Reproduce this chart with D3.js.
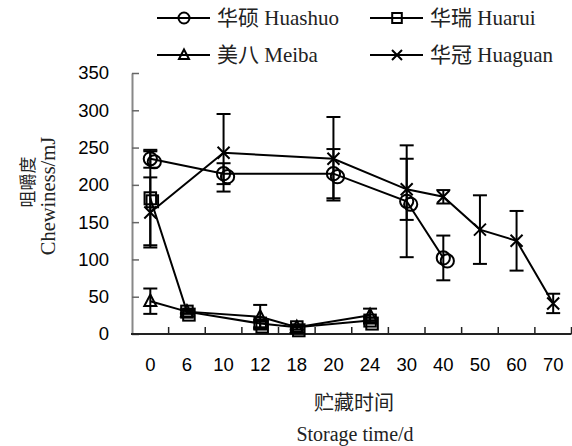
<!DOCTYPE html>
<html><head><meta charset="utf-8">
<script src="https://cdn.jsdelivr.net/npm/d3@7"></script>
<style>
body{margin:0;background:#fff;}
svg{display:block;}
.serif{font-family:"Liberation Serif","Times New Roman","Noto Sans CJK SC",serif;}
.sans{font-family:"Liberation Sans",Arial,sans-serif;}
</style></head>
<body>
<script>
// ---- data ----
const categories = ["0","6","10","12","18","20","24","30","40","50","60","70"];
const yTicks = [0,50,100,150,200,250,300,350];

const huashuoDays = ["0","10","20","30","40"];
const huashuoMean = [235, 215, 215, 178, 102];
const huashuoErr  = [12, 14, 33, 75, 30];

const huaruiDays = ["0","6","12","18","24"];
const huaruiMean = [182, 30, 14, 9, 18];
const huaruiErr  = [63, 3, 5, 3, 4];

const meibaDays = ["0","6","12","18","24"];
const meibaMean = [44, 30, 23, 9, 25];
const meibaErr  = [17, 2, 16, 3, 9];

const huaguanDays = ["0","10","20","30","40","50","60","70"];
const huaguanMean = [163, 243, 235, 194, 184, 140, 125, 41];
const huaguanErr  = [47, 52, 56, 41, 9, 46, 40, 13];

const seriesNames = ["华硕 Huashuo","华瑞 Huarui","美八 Meiba","华冠 Huaguan"];
const seriesShapes = ["circle","square","triangle","cross"];

// ---- build ----
const W = 572, H = 446;
const svg = d3.select("body").append("svg").attr("width",W).attr("height",H);

const x = d3.scaleBand().domain(categories).range([132, 571.5]).padding(0);
const y = d3.scaleLinear().domain([0,350]).range([334, 73]);

// y axis
const yAxis = d3.axisLeft(y).tickValues(yTicks).tickSize(-7).tickSizeOuter(0).tickPadding(23);
const gy = svg.append("g").attr("transform","translate(132,0)").call(yAxis);
gy.select(".domain").attr("stroke","#888").attr("stroke-width",2);
gy.selectAll(".tick line").attr("stroke","#666").attr("stroke-width",1.5);
gy.selectAll(".tick text").attr("class","sans").attr("font-size",18.5).attr("fill","#000");

// x axis
const xAxis = d3.axisBottom(x).tickSize(0).tickPadding(24);
const gx = svg.append("g").attr("transform","translate(0,334)").call(xAxis);
gx.select(".domain").remove();
gx.selectAll(".tick text").attr("class","sans").attr("font-size",18.5).attr("fill","#000");
svg.append("line").attr("x1",131).attr("x2",571.5).attr("y1",334).attr("y2",334)
  .attr("stroke","#222").attr("stroke-width",2);
svg.append("g").selectAll("line").data(categories)
  .join("line")
  .attr("x1",(d,i)=>x.range()[0]+x.step()*(i+1))
  .attr("x2",(d,i)=>x.range()[0]+x.step()*(i+1))
  .attr("y1",334).attr("y2",327).attr("stroke","#222").attr("stroke-width",1.5);

// axis titles
svg.append("text").attr("class","serif").attr("x",354).attr("y",410)
  .attr("text-anchor","middle").attr("font-size",20).attr("fill","#222").text("贮藏时间");
svg.append("text").attr("class","serif").attr("x",355).attr("y",441)
  .attr("text-anchor","middle").attr("font-size",20).attr("fill","#222").text("Storage time/d");
svg.append("text").attr("class","serif").attr("transform","translate(34,182) rotate(-90)")
  .attr("text-anchor","middle").attr("font-size",17).attr("fill","#222").text("咀嚼度");
svg.append("text").attr("class","serif").attr("transform","translate(55,196) rotate(-90)")
  .attr("text-anchor","middle").attr("font-size",20.5).attr("fill","#222").text("Chewiness/mJ");

// markers
function drawMarker(g, shape, cx, cy, s){
  if(shape==="circle"){
    g.append("circle").attr("cx",cx).attr("cy",cy).attr("r",s*0.55)
      .attr("fill","none").attr("stroke","#000").attr("stroke-width",2);
  } else if(shape==="square"){
    g.append("rect").attr("x",cx-s*0.48).attr("y",cy-s*0.5).attr("width",s*0.96).attr("height",s)
      .attr("fill","none").attr("stroke","#000").attr("stroke-width",2);
  } else if(shape==="triangle"){
    const h=s*0.5;
    g.append("path").attr("d",`M${cx},${cy-h*1.1}L${cx+h},${cy+h*0.8}L${cx-h},${cy+h*0.8}Z`)
      .attr("fill","none").attr("stroke","#000").attr("stroke-width",2);
  } else {
    const h=s*0.5;
    g.append("path").attr("d",`M${cx-h},${cy-h}L${cx+h},${cy+h}M${cx+h},${cy-h}L${cx-h},${cy+h}`)
      .attr("fill","none").attr("stroke","#000").attr("stroke-width",2);
  }
}

const series = [
  {days:huashuoDays, mean:huashuoMean, err:huashuoErr, shape:"circle", dbl:[4,3]},
  {days:huaruiDays, mean:huaruiMean, err:huaruiErr, shape:"square", dbl:[2,3]},
  {days:meibaDays, mean:meibaMean, err:meibaErr, shape:"triangle", dbl:null},
  {days:huaguanDays, mean:huaguanMean, err:huaguanErr, shape:"cross", dbl:null}
];
const cx = d => x(d) + x.bandwidth()/2;
const plot = svg.append("g");
const capW = 7;
series.forEach(s=>{
  const pts = s.days.map((d,i)=>({d, v:s.mean[i], e:s.err[i]}));
  const eg = plot.append("g").attr("stroke","#000").attr("stroke-width",2);
  pts.forEach(p=>{
    const X = cx(p.d);
    eg.append("line").attr("x1",X).attr("x2",X).attr("y1",y(p.v+p.e)).attr("y2",y(p.v-p.e));
    eg.append("line").attr("x1",X-capW).attr("x2",X+capW).attr("y1",y(p.v+p.e)).attr("y2",y(p.v+p.e));
    eg.append("line").attr("x1",X-capW).attr("x2",X+capW).attr("y1",y(p.v-p.e)).attr("y2",y(p.v-p.e));
  });
  plot.append("path").datum(pts)
    .attr("d", d3.line().x(p=>cx(p.d)).y(p=>y(p.v)))
    .attr("fill","none").attr("stroke","#000").attr("stroke-width",2);
  const mg = plot.append("g");
  pts.forEach(p=>{
    drawMarker(mg, s.shape, cx(p.d), y(p.v), 12);
    if(s.dbl) drawMarker(mg, s.shape, cx(p.d)+s.dbl[0], y(p.v)+s.dbl[1], 12);
  });
});

// legend
const legPos = [[157,18],[370,18],[157,55],[370,55]];
seriesNames.forEach((name,i)=>{
  const [lx,ly] = legPos[i];
  const g = svg.append("g");
  g.append("line").attr("x1",lx).attr("x2",lx+53).attr("y1",ly).attr("y2",ly)
    .attr("stroke","#000").attr("stroke-width",2);
  drawMarker(g, seriesShapes[i], lx+27, ly, 10);
  g.append("text").attr("class","serif").attr("x",lx+60).attr("y",ly+7)
    .attr("font-size",21).attr("fill","#222").text(name);
});
</script>
</body></html>
